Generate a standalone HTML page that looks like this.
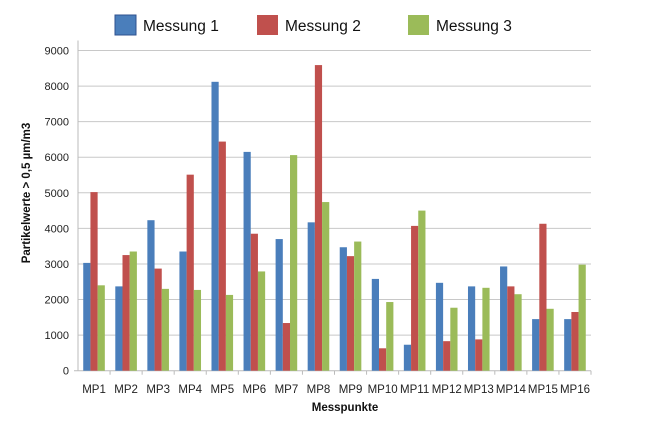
<!DOCTYPE html>
<html><head><meta charset="utf-8"><style>
body{margin:0;background:#fff;font-family:"Liberation Sans",sans-serif}
</style></head><body>
<svg width="650" height="428" id="c" xmlns="http://www.w3.org/2000/svg" font-family="Liberation Sans, sans-serif"></svg>
<script>
const categories=["MP1","MP2","MP3","MP4","MP5","MP6","MP7","MP8","MP9","MP10","MP11","MP12","MP13","MP14","MP15","MP16"];
const messung1=[3030,2370,4230,3350,8120,6150,3700,4170,3470,2580,730,2470,2370,2930,1450,1450];
const messung2=[5020,3250,2870,5510,6440,3850,1340,8590,3220,630,4070,830,880,2370,4130,1650];
const messung3=[2400,3350,2300,2270,2130,2790,6060,4740,3630,1930,4500,1770,2330,2150,1740,2980];
const yTicks=[0,1000,2000,3000,4000,5000,6000,7000,8000,9000];
const seriesNames=["Messung 1","Messung 2","Messung 3"];
const colors=["#4a7ebb","#c0504d","#9bbb59"];
const svg=document.getElementById('c');const NS="http://www.w3.org/2000/svg";
function mk(t,a,p){const e=document.createElementNS(NS,t);for(const k in a)e.setAttribute(k,a[k]);(p||svg).appendChild(e);return e;}
const x0=78,x1=591,y0=370.7,yTop=50.5,yMax=9000;
const y=v=>y0-(v/yMax)*(y0-yTop);
const cw=(x1-x0)/categories.length;
const xc=i=>x0+cw*(i+0.5);
yTicks.forEach(t=>{
 if(t>0){const l=mk('line',{x1:x0,x2:x1,y1:y(t),y2:y(t),stroke:'#c8c8c8','stroke-width':1});
 }
 const tx=mk('text',{x:x0-9,y:y(t)+4,'text-anchor':'end','font-size':11,fill:'#222'});tx.textContent=t;
 
});
const ax=mk('line',{x1:x0,x2:x0,y1:yTop-10,y2:y0,stroke:'#bbb'});

const bx=mk('line',{x1:x0-4,x2:x1,y1:y0,y2:y0,stroke:'#bbb'});

const data=[messung1,messung2,messung3];const bw=7.2;
categories.forEach((c,i)=>{
 const tk=mk('line',{x1:x0+cw*(i+1),x2:x0+cw*(i+1),y1:y0,y2:y0+4,stroke:'#bbb'});
 
 data.forEach((s,j)=>{
  const r=mk('rect',{x:xc(i)+(j-1.5)*bw,y:y(s[i]),width:bw,height:y0-y(s[i]),fill:colors[j]});
  
 });
 const tx=mk('text',{x:xc(i),y:393,'text-anchor':'middle','font-size':11.5,fill:'#222'});tx.textContent=c;
 
});
const lx=[115,257,408];
seriesNames.forEach((n,j)=>{
 const g=mk('g',{});
 const r=mk('rect',{x:lx[j],y:15,width:21,height:20,fill:colors[j],stroke:j==0?'#2f528f':'none'},g);
 
 const t=mk('text',{x:lx[j]+28,y:31,'font-size':15.5,fill:'#111'},g);t.textContent=n;
 
});
const xt=mk('text',{x:345,y:411,'text-anchor':'middle','font-size':11.5,'font-weight':'bold',fill:'#111'});xt.textContent='Messpunkte';

const yt=mk('text',{x:0,y:0,'text-anchor':'middle','font-size':11.5,'font-weight':'bold',fill:'#111',transform:'translate(30,193) rotate(-90)'});yt.textContent='Partikelwerte > 0,5 µm/m3';

</script>
</body></html>
